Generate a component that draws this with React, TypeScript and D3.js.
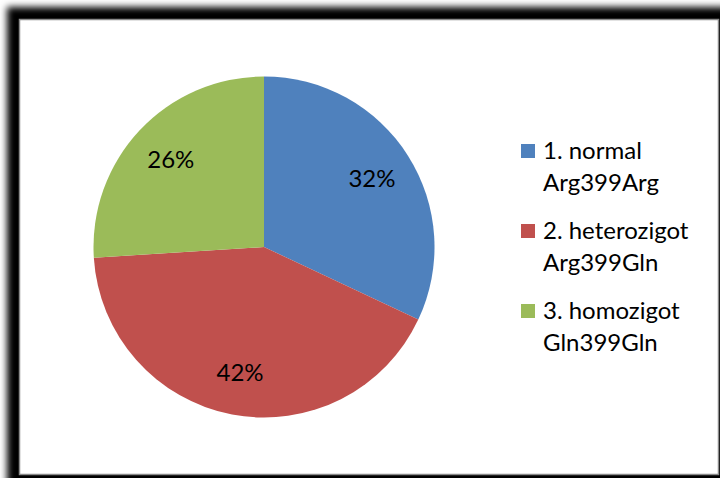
import React from "react";
import * as d3 from "d3";

const categories = ["1. normal|Arg399Arg", "2. heterozigot|Arg399Gln", "3. homozigot|Gln399Gln"];
const values = [32, 42, 26];
const colors = ["#4F81BD", "#C0504D", "#9BBB59"];

const W = 720;
const H = 478;
const FONT = "Lato, 'Open Sans', sans-serif";

export default function App() {
  const cx = 264;
  const cy = 247;
  const r = 170.5;
  const total = d3.sum(values);
  const pie = d3.pie<number>().sort(null).value((d) => d);
  const arcs = pie(values);
  const arc = d3.arc<d3.PieArcDatum<number>>().innerRadius(0).outerRadius(r);
  const labelArc = d3.arc<d3.PieArcDatum<number>>().innerRadius(r * 0.75).outerRadius(r * 0.75);

  const legendX = 521;
  const legendY0 = 144;
  const entryGap = 80;
  const lineGap = 31.5;

  return (
    <svg width={W} height={H} style={{ position: "absolute", left: 0, top: 0 }}>
      <defs>
        <filter id="shadowBlur" x="-10%" y="-10%" width="120%" height="120%">
          <feGaussianBlur stdDeviation="3.5" />
        </filter>
      </defs>
      <rect x={0} y={0} width={W} height={H} fill="#ffffff" />
      <rect x={7} y={7} width={760} height={520} fill="#000000" filter="url(#shadowBlur)" />
      <rect x={19.5} y={19.5} width={699} height={455} fill="#ffffff" stroke="#8a8a8a" strokeWidth={1.5} />
      <g transform={`translate(${cx},${cy})`}>
        {arcs.map((a, i) => (
          <path key={i} d={arc(a) || ""} fill={colors[i]} />
        ))}
        {arcs.map((a, i) => {
          const [x, y] = labelArc.centroid(a);
          return (
            <text
              key={"l" + i}
              x={x}
              y={y}
              dy="0.35em"
              textAnchor="middle"
              fontFamily={FONT}
              fontSize={24}
              fill="#000"
            >
              {d3.format(".0%")(values[i] / total)}
            </text>
          );
        })}
      </g>
      {categories.map((c, i) => {
        const [l1, l2] = c.split("|");
        const y = legendY0 + i * entryGap;
        return (
          <g key={"g" + i}>
            <rect x={legendX} y={y} width={14} height={14} fill={colors[i]} />
            <text x={legendX + 22} y={y + 15} fontFamily={FONT} fontSize={24} fill="#000">
              {l1}
            </text>
            <text x={legendX + 22} y={y + 15 + lineGap} fontFamily={FONT} fontSize={24} fill="#000">
              {l2}
            </text>
          </g>
        );
      })}
    </svg>
  );
}
